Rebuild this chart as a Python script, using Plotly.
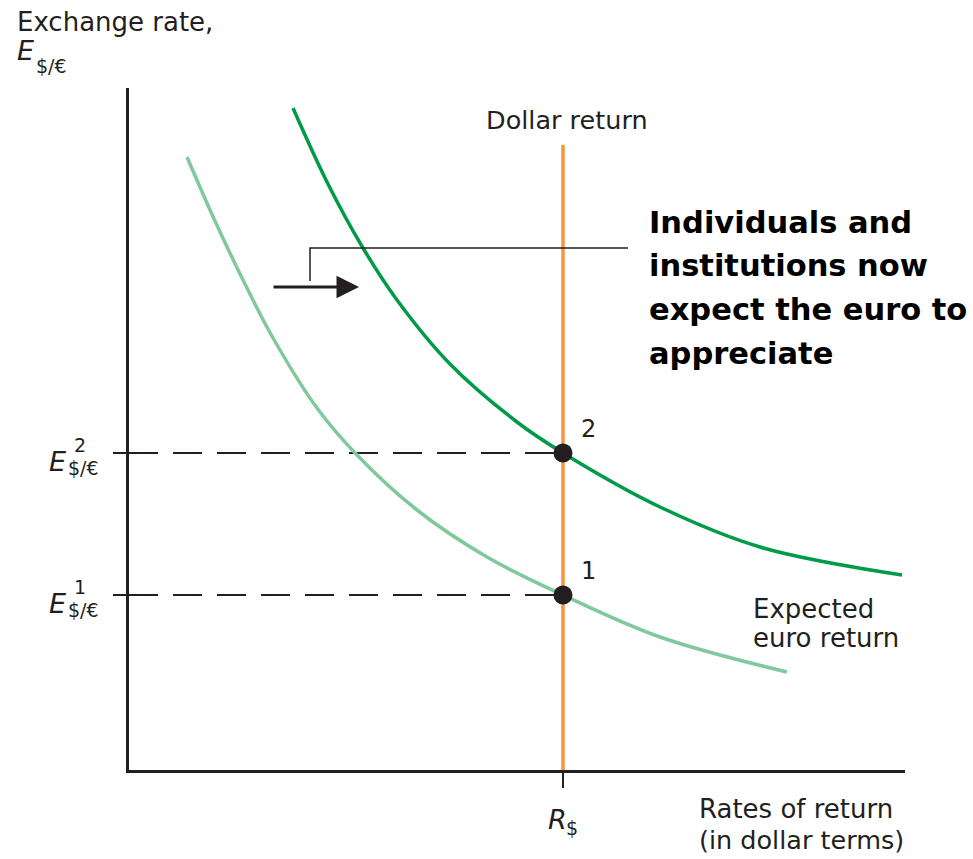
import plotly.graph_objects as go

# ---------------- data (axis units) ----------------
light_x = [5.8, 8.6, 11.5, 14.4, 18.8, 22.8, 28.8, 35.8, 43.4, 53.1, 65.8]
light_y = [61.3, 54.9, 48.8, 43.2, 36.2, 31.5, 26.0, 21.3, 17.5, 13.3, 9.8]

dark_x = [16.4, 19.9, 23.4, 26.8, 32.1, 38.8, 43.4, 53.1, 63.1, 77.3]
dark_y = [66.2, 58.6, 52.2, 47.0, 40.6, 34.8, 31.7, 26.3, 22.3, 19.5]

r_dollar = 43.4            # dollar return (vertical line)
dollar_top = 62.5
e_levels = [17.5, 31.7]    # E1, E2
eq_labels = ["1", "2"]

# bracket + arrow (axis units)
bracket_x = [18.1, 18.1, 49.9]
bracket_y = [48.9, 52.2, 52.2]
arrow_tail = (14.3, 48.3)
arrow_tip = (23.0, 48.3)

bold_lines = ["Individuals and", "institutions now", "expect the euro to", "appreciate"]

# ---------------- layout constants ----------------
W, H = 973, 859
L, R, T, B = 129, 68, 88, 89
PW, PH = W - L - R, H - T - B
XMAX = PW / 10.0
YMAX = PH / 10.0
INK = "#231f20"
FONT = "DejaVu Sans"
DARK_GREEN = "#009b48"
LIGHT_GREEN = "#80c99c"
ORANGE = "#f7943c"


fig = go.Figure()

# dashed guides
for e in e_levels:
    fig.add_trace(go.Scatter(x=[0, r_dollar], y=[e, e], mode="lines",
                             line=dict(color=INK, width=2, dash="29px,15px"),
                             hoverinfo="skip", showlegend=False))

# curves
fig.add_trace(go.Scatter(x=light_x, y=light_y, mode="lines",
                         line=dict(color=LIGHT_GREEN, width=3.5, shape="spline", smoothing=1.0),
                         showlegend=False, hoverinfo="skip"))
fig.add_trace(go.Scatter(x=dark_x, y=dark_y, mode="lines",
                         line=dict(color=DARK_GREEN, width=3.5, shape="spline", smoothing=1.0),
                         showlegend=False, hoverinfo="skip"))

# dollar return
fig.add_trace(go.Scatter(x=[r_dollar, r_dollar], y=[0, dollar_top], mode="lines",
                         line=dict(color=ORANGE, width=3.5),
                         showlegend=False, hoverinfo="skip"))

# bracket
fig.add_trace(go.Scatter(x=bracket_x, y=bracket_y, mode="lines",
                         line=dict(color=INK, width=1.5),
                         showlegend=False, hoverinfo="skip"))

# equilibrium points
fig.add_trace(go.Scatter(x=[r_dollar] * len(e_levels), y=e_levels, mode="markers",
                         marker=dict(color=INK, size=19),
                         showlegend=False, hoverinfo="skip", cliponaxis=False))

ann = []


def text(s, x, y, size=25, anchor="left", bold=False, color=INK):
    ann.append(dict(text=s, x=(x - L) / PW, y=(H - B - y) / PH, xref="paper", yref="paper",
                    xanchor=anchor, yanchor="middle", showarrow=False,
                    font=dict(family=FONT, size=size, color=color,
                              weight="bold" if bold else "normal")))


text("Exchange rate,", 15, 21.5, 26)
text("<i>E</i>", 15, 50, 27)
text("$/€", 34, 65.5, 19)

# y tick labels
ypx = [H - B - e * 10 for e in e_levels]
for lab, yp in zip(eq_labels, ypx):
    text("<i>E</i>", 47, yp + 8, 27)
    text(lab, 72, yp - 8, 19)
    text("$/€", 66, yp + 15, 19)

text("<i>R</i>", 546, 819.5, 27)
text("$", 564, 828, 19)

text("Rates of return", 697, 809, 26)
text("(in dollar terms)", 697, 840, 25.5)
text("Dollar return", 567, 120.5, 25.5, anchor="center")
text("Expected", 751, 609, 26)
text("euro return", 751, 638, 26)

for lab, yp in zip(eq_labels, ypx):
    text(lab, 579, yp - 24, 24)

for i, line in enumerate(bold_lines):
    text(line, 647, 222 + i * 43.7, 30.5, bold=True, color="#000000")

# shift arrow
ann.append(dict(x=arrow_tip[0], y=arrow_tip[1], ax=arrow_tail[0], ay=arrow_tail[1],
                xref="x", yref="y", axref="x", ayref="y", text="", showarrow=True,
                arrowhead=2, arrowsize=1.5, arrowwidth=3, arrowcolor=INK))

fig.update_layout(
    width=W, height=H,
    margin=dict(l=L, r=R, t=T, b=B, pad=0),
    paper_bgcolor="white", plot_bgcolor="white",
    showlegend=False,
    annotations=ann,
    xaxis=dict(range=[0, XMAX], showgrid=False, zeroline=False, showline=True,
               linewidth=3, linecolor=INK, ticks="outside", tickvals=[r_dollar],
               ticklen=15, tickwidth=1.5, tickcolor=INK, showticklabels=False,
               fixedrange=True),
    yaxis=dict(range=[0, YMAX], showgrid=False, zeroline=False, showline=True,
               linewidth=3, linecolor=INK, ticks="outside", tickvals=e_levels,
               ticklen=13, tickwidth=2, tickcolor=INK, showticklabels=False,
               fixedrange=True),
)

fig.write_html("out.html", config={"displayModeBar": False},
               post_script="document.body.style.margin='0';")
